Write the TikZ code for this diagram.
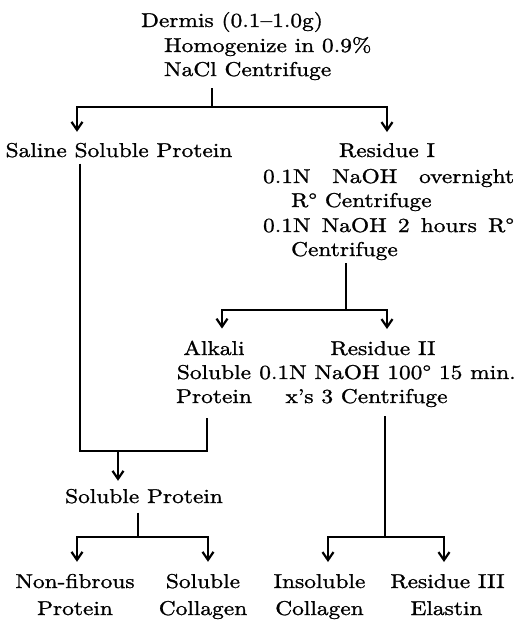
\documentclass[tikz,border=0pt]{standalone}
\usepackage{fontspec}
\setmainfont{Latin Modern Roman}[FakeStretch=1.17,FakeBold=1.2]
\usetikzlibrary{arrows.meta}
\begin{document}
\begin{tikzpicture}[x=0.5pt,y=-0.5pt,line width=1.1pt,
  t/.style={inner sep=0pt,anchor=base,font=\fontsize{10}{12}\selectfont},
  tl/.style={inner sep=0pt,anchor=base west,font=\fontsize{10}{12}\selectfont},
  arr/.style={-{Straight Barb[length=4pt,width=5.5pt]}}]
\useasboundingbox (0,0) rectangle (518,622);
% text
\node[t]  (derm) at (232,27) {Dermis (0.1--1.0g)};
\node[tl] (hom)  at (163,52) {Homogenize in 0.9\%};
\node[tl] (nacl) at (163,76) {NaCl Centrifuge};
\node[t]  (sal)  at (119,157) {Saline Soluble Protein};
\node[t]  (res1) at (387,157) {Residue I};
\node[tl] (r1)   at (262,183) {\makebox[125.5pt][s]{0.1N NaOH overnight}};
\node[tl] (r2)   at (290,207) {R° Centrifuge};
\node[tl] (r3)   at (262,232) {\makebox[125.5pt][s]{0.1N NaOH 2 hours R°}};
\node[tl] (r4)   at (290,256) {Centrifuge};
\node[t]  (alk1) at (214,355) {Alkali};
\node[t]  (alk2) at (214,379) {Soluble};
\node[t]  (alk3) at (214,403) {Protein};
\node[t]  (res2) at (383,355) {Residue II};
\node[t]  (q1)   at (387.5,379) {0.1N NaOH 100° 15 min.};
\node[t]  (q2)   at (366.5,403) {x’s 3 Centrifuge};
\node[t]  (sp)   at (144,503) {Soluble Protein};
\node[t]  (nf1)  at (75,588) {Non-fibrous};
\node[t]  (nf2)  at (75,615) {Protein};
\node[t]  (sc1)  at (203,588) {Soluble};
\node[t]  (sc2)  at (203,615) {Collagen};
\node[t]  (ic1)  at (319.5,588) {Insoluble};
\node[t]  (ic2)  at (319.5,615) {Collagen};
\node[t]  (r31)  at (447.5,588) {Residue III};
\node[t]  (r32)  at (446.5,615) {Elastin};
% junctions and columns
\coordinate (j1) at (212,107);
\coordinate (j2) at (346,310);
\coordinate (j3) at (80,451);
\coordinate (j4) at (118,451);
\coordinate (j5) at (138,537);
\coordinate (j6) at (385,537);
\coordinate (xa) at (77,0);
\coordinate (xb) at (387,0);
\coordinate (xc) at (222,0);
\coordinate (xd) at (387,0);
\coordinate (xf) at (207,0);
\coordinate (xg) at (77,0);
\coordinate (xh) at (208,0);
\coordinate (xi) at (328,0);
\coordinate (xj) at (444,0);
% connectors
\draw[shorten <=3.5pt] (nacl.south -| j1) -- (j1);
\draw[arr,shorten >=5pt] (j1) -| (sal.north -| xa);
\draw[arr,shorten >=5pt] (j1) -| (res1.north -| xb);
\draw[shorten <=1pt] (r4.south -| j2) -- (j2);
\draw[arr,shorten >=5.5pt] (j2) -| (alk1.north -| xc);
\draw[arr,shorten >=5.5pt] (j2) -| (res2.north -| xd);
\draw[shorten <=2.5pt,shorten >=7pt] (sal.south -| j3) -- (j3) -| (alk3.south -| xf);
\draw[arr,shorten >=3.5pt] (j4) -- (sp.north -| j4);
\draw[shorten <=4pt] (sp.south -| j5) -- (j5);
\draw[arr,shorten >=5.5pt] (j5) -| (nf1.north -| xg);
\draw[arr,shorten >=5.5pt] (j5) -| (sc1.north -| xh);
\draw[shorten <=4pt] (q2.south -| j6) -- (j6);
\draw[arr,shorten >=5.5pt] (j6) -| (ic1.north -| xi);
\draw[arr,shorten >=5.5pt] (j6) -| (r31.north -| xj);
\end{tikzpicture}
\end{document}
